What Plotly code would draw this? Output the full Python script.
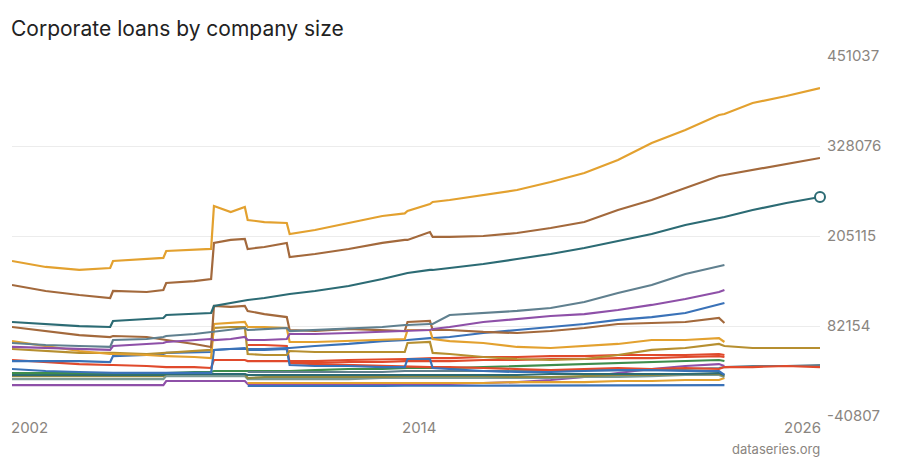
import plotly.graph_objects as go

dates = ["2002-01-01", "2003-01-01", "2004-01-01", "2004-12-01", "2005-01-01", "2006-01-01",
         "2006-07-01", "2006-08-01", "2007-06-01", "2007-12-01", "2008-01-01", "2008-07-01",
         "2008-12-01", "2009-01-01", "2009-07-01", "2010-03-01", "2010-04-01", "2011-01-01",
         "2012-01-01", "2013-01-01", "2013-09-01", "2013-10-01", "2014-06-01", "2014-07-01",
         "2015-01-01", "2016-01-01", "2017-01-01", "2018-01-01", "2019-01-01", "2020-01-01",
         "2021-01-01", "2022-01-01", "2023-01-01", "2023-03-01", "2024-01-01", "2025-01-01",
         "2026-01-01"]

N = None
# main series
gold_top = [171000, 162800, 158700, 161400, 171000, 173700, 175100, 184600, 186000, 187400,
            246100, 237900, 244700, 227000, 224200, 222900, 207800, 213300, 222900, 232400,
            236000, 239300, 248800, 251600, 254300, 261100, 268000, 278900, 291200, 308900,
            332200, 349900, 370400, 371800, 386800, 396400, 407300]
brown_top = [138200, 130000, 124500, 120400, 130000, 128600, 131300, 140900, 143600, 146400,
             195600, 199700, 201000, 187400, 190100, 195600, 176400, 180500, 187400, 195600,
             199700, 199700, 210600, 203800, 203800, 205100, 209200, 216000, 224200, 240600,
             254300, 270700, 287100, 288500, 295300, 303500, 311700]
teal_main = [87600, 84900, 82100, 80800, 89000, 91700, 93100, 97200, 98500, 99900,
             109500, 113600, 116300, 117700, 120400, 125900, 125900, 130000, 136800, 146400,
             153200, 154600, 158700, 158700, 161400, 166900, 173700, 180500, 188700, 198300,
             207800, 220100, 229700, 231100, 240600, 250200, 258400]
slate_mid = [58900, 56200, 54800, 53500, 63000, 64400, 67100, 68500, 71200, 74000,
             74000, 76700, 79400, 76700, 78100, 79400, 75300, 76700, 78100, 80800,
             83500, 83500, 84900, 84900, 97200, 99900, 102700, 106700, 114900, 127200,
             138200, 153200, 164100, 165500, N, N, N]
purple_mid = [53500, 52100, 50700, 49400, 54800, 57600, 58900, 60300, 63000, 64400,
              63000, 64400, 67100, 63000, 63000, 64400, 71200, 71200, 72600, 74000,
              75300, 75300, 76700, 78100, 80800, 87600, 91700, 95800, 98500, 104000,
              110900, 119000, 128600, 131300, N, N, N]
brown_mid = [80800, 75300, 69800, 67100, 68500, 67100, 64400, 63000, 57600, 53500,
             109500, 108200, 109500, 102700, 98500, 94400, 76700, 75300, 78100, 76700,
             75300, 87600, 89000, 76700, 76700, 74000, 72600, 75300, 79400, 84900,
             86200, 87600, 93100, 86200, N, N, N]
gold_mid = [61600, 54800, 48000, 43900, 43900, 42500, 41100, 41100, 39800, 38400,
            84900, 86200, 87600, 80800, 80800, 79400, 60300, 60300, 61600, 63000,
            64400, 76700, 76700, 64400, 61600, 58900, 53500, 52100, 54800, 57600,
            63000, 63000, 65700, 60300, N, N, N]
olive_mid = [50700, 48000, 45300, 45300, 45300, 43900, 45300, 45300, 48000, 49400,
             79400, 80800, 80800, 43900, 42500, 42500, 48000, 46600, 46600, 46600,
             46600, 59000, 60300, 45300, 43900, 39800, 37100, 35700, 37100, 42500,
             49400, 52100, 57600, 54800, 52100, 52100, 52100]
blue_mid = [34300, 34300, 34300, 32900, 41100, 42500, 43900, 45300, 46600, 46600,
            49400, 50700, 50700, 50700, 50700, 52100, 52100, 54800, 57600, 61600,
            63000, 63000, 65700, 65700, 67100, 72600, 76700, 80800, 84900, 90400,
            94400, 99900, 111000, 113600, N, N, N]
blue_step = [23400, 20700, 19300, 18000, 18000, 18000, 18000, 18000, 18000, 18000,
             49400, 50700, 52100, 49400, 49400, 50700, 28900, 27500, 27500, 26100,
             26100, 37100, 37100, 24800, 23400, 20700, 19300, 19300, 20700, 22000,
             22000, 20700, 20700, 15400, N, N, N]
red_a = [35700, 33000, 30200, 28900, 28900, 27500, 26100, 26100, 26100, 24800,
         35700, 35700, 35700, 34300, 34300, 34300, 34300, 34300, 35700, 37100,
         37100, 37100, 38400, 38400, 38400, 39800, 39800, 41100, 41100, 42500,
         42500, 42500, 43900, 42500, N, N, N]
red_long = [N, N, N, N, N, N, N, N, N, N,
            N, N, N, 56200, 56200, 54800, 31600, 30200, 28900, 27500,
            26100, 26100, 26100, 26100, 26100, 24800, 23400, 22000, 23400, 24800,
            23400, 24800, 23400, 26100, 26100, 27500, 26100]
red_c = [N, N, N, N, N, N, N, N, N, N,
         N, N, N, N, N, N, 31600, 31600, 33000, 33000, 34300, 34300, 34300, 34300,
         34300, 35700, 35700, 37100, 37100, 38400, 38400, 39800, 41100, 39800, N, N, N]
green_low = [17900, 17900, 17900, 17900, 17900, 17900, 17900, 17900, 19300, 19300,
             20700, 20700, 20700, 20700, 20700, 20700, 20700, 22000, 23400, 23400,
             24800, 24800, 24800, 24800, 24800, 26100, 27500, 28900, 30200, 31600,
             33000, 34300, 35700, 34300, N, N, N]
khaki_low = [13800, 13800, 13800, 13800, 13800, 13800, 13800, 16600, 16600, 16600,
             16600, 16600, 16600, 11100, 12500, 12500, 12500, 12500, 12500, 12500,
             13800, 13800, 13800, 13800, 13800, 13800, 12500, 12500, 13800, 15200,
             15200, 16600, 16600, 13800, N, N, N]
sage_low = [9700, 9700, 9700, 9700, 9700, 9700, 9700, 13800, 13800, 13800,
            13800, 13800, 13800, 9700, 9700, 9700, 9700, 9700, 9700, 11100,
            11100, 11100, 11100, 11100, 11100, 11100, 11100, 11100, 12500, 12500,
            13800, 15200, 15200, 12500, N, N, N]
purple_low = [1500, 1500, 1500, 1500, 1500, 1500, 1500, 7000, 7000, 7000,
              7000, 7000, 7000, 2900, 2900, 2900, 2900, 2900, 2900, 2900,
              2900, 2900, 2900, 2900, 2900, 4300, 5600, 8400, 12500, 17900,
              23400, 27500, 30200, 27500, N, N, N]
blue_zero = [N, N, N, N, N, N, N, N, N, N,
             N, N, N, 300, 200, 200, 100, 200, 300, 400,
             500, 500, 600, 600, 700, 800, 900, 1000, 1100, 1200,
             1300, 1400, 1500, 1500, N, N, N]
gold_low = [N, N, N, N, N, N, N, N, N, N,
            N, N, N, 4300, 4300, 4300, 4300, 4300, 4300, 4300,
            4300, 4300, 4300, 4300, 4300, 4300, 5600, 5600, 5600, 7000,
            7000, 8400, 8400, 11100, N, N, N]
slate_long = [N, N, N, N, N, N, N, N, N, N,
              N, N, N, 19300, 19300, 19300, 19300, 19300, 19300, 19300,
              20700, 20700, 20700, 20700, 20700, 20700, 20700, 22000, 22000, 22000,
              22000, 23400, 24800, 26100, 27500, 27500, 28900]
teal_low = [15200, 15200, 15200, 15200, 15200, 15200, 15200, 16600, 16600, 16600,
            16600, 16600, 16600, 15200, 15200, 15200, 15200, 15200, 15200, 15200,
            15200, 15200, 15200, 15200, 15200, 15200, 15200, 16600, 16600, 16600,
            16600, 16600, 17900, 15200, N, N, N]

y_ticks = [-40807, 82154, 205115, 328076, 451037]
y_tick_text = ["-40807", "82154", "205115", "328076", "451037"]
x_ticks = ["2002-01-01", "2014-01-01", "2026-01-01"]
x_tick_text = ["2002", "2014", "2026"]

GOLD = "#e3a12f"
BROWN = "#a3693c"
TEAL = "#2c6b74"
SLATE = "#60808f"
PURPLE = "#8e50a8"
BLUE = "#3a72b8"
RED = "#e04a2c"
GREEN = "#3e8d4c"
OLIVE = "#b68f30"
KHAKI = "#8f8a42"
SAGE = "#7a9a94"

series = [
    (blue_zero, BLUE), (purple_low, PURPLE), (gold_low, GOLD), (sage_low, SAGE),
    (khaki_low, KHAKI), (teal_low, TEAL), (green_low, GREEN), (slate_long, SLATE),
    (red_long, RED), (red_c, RED), (red_a, RED), (blue_step, BLUE), (blue_mid, BLUE),
    (olive_mid, OLIVE), (gold_mid, GOLD), (brown_mid, BROWN), (purple_mid, PURPLE),
    (slate_mid, SLATE), (teal_main, TEAL), (brown_top, BROWN), (gold_top, GOLD),
]

fig = go.Figure()
for vals, col in series:
    fig.add_trace(go.Scatter(x=dates, y=vals, mode="lines",
                             line=dict(color=col, width=2.2), hoverinfo="skip"))

fig.add_trace(go.Scatter(x=[dates[-1]], y=[teal_main[-1]], mode="markers",
                         marker=dict(size=10, color="white", line=dict(color=TEAL, width=2)),
                         cliponaxis=False, hoverinfo="skip"))

fig.update_layout(
    width=900, height=460,
    margin=dict(l=12, r=80, t=56, b=44),
    paper_bgcolor="white", plot_bgcolor="white",
    showlegend=False,
    font=dict(family="Inter, sans-serif"),
    xaxis=dict(type="date", range=["2002-01-01", "2026-01-01"], showgrid=False,
               zeroline=False, showline=False, showticklabels=False, ticks=""),
    yaxis=dict(side="right", range=[y_ticks[0], y_ticks[-1]], tickvals=y_ticks,
               ticktext=y_tick_text, showgrid=True, gridcolor="#ececec", gridwidth=1,
               zeroline=False, showline=False, ticks="", ticklabelstandoff=6,
               tickfont=dict(size=15, color="#8a8580", family="Inter, sans-serif")),
)

anchors = ["left", "center", "right"]
shifts = [-3, 3, 3]
for xv, txt, anc, sh in zip(x_ticks, x_tick_text, anchors, shifts):
    fig.add_annotation(x=xv, xref="x", y=0, yref="paper", yanchor="top", yshift=0,
                       xanchor=anc, xshift=sh, text=txt, showarrow=False,
                       font=dict(size=15, color="#8a8580", family="Inter, sans-serif"))

fig.add_annotation(x=0, xref="paper", xanchor="left", xshift=-3, y=1, yref="paper",
                   yanchor="middle", yshift=28, text="Corporate loans by company size",
                   showarrow=False, font=dict(size=21, color="#222222", family="Inter, sans-serif"))
fig.add_annotation(x=1, xref="paper", xanchor="right", xshift=2, y=0, yref="paper",
                   yanchor="middle", yshift=-33, text="dataseries.org",
                   showarrow=False, font=dict(size=13, color="#8a8580", family="Inter, sans-serif"))

fig.write_html("out.html")
